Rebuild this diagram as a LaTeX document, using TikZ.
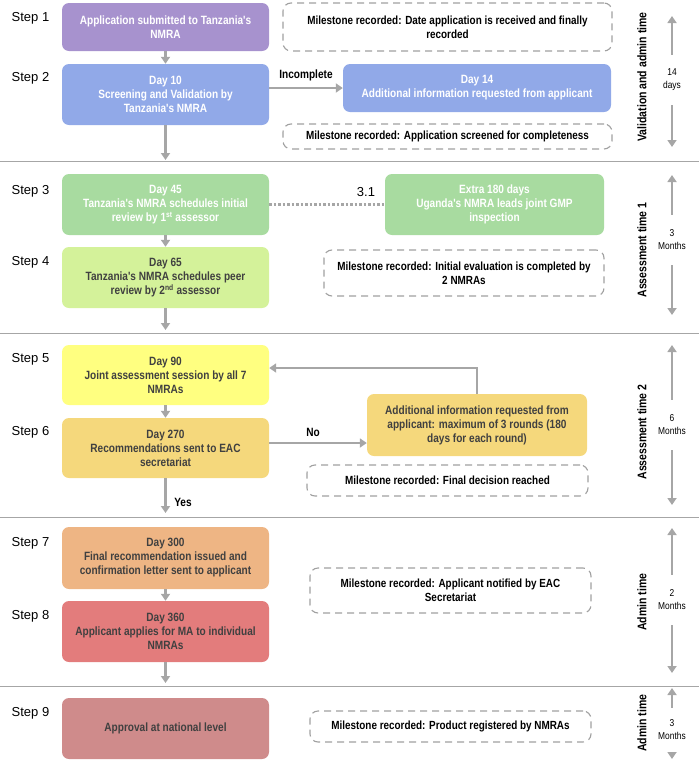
\documentclass[tikz,border=0pt]{standalone}
\usepackage{fontspec}
\setmainfont{Liberation Sans}
\newfontfamily\narrowsf{Liberation Sans}[FakeStretch=0.84]
\usetikzlibrary{arrows.meta, positioning}
\definecolor{linegray}{HTML}{A6A6A6}
\definecolor{dashgray}{HTML}{A0A0A0}
\definecolor{boxtext}{HTML}{404040}
\definecolor{cpurple}{HTML}{A792CE}
\definecolor{cblue}{HTML}{91A9E8}
\definecolor{cgreen}{HTML}{A8DBA0}
\definecolor{clime}{HTML}{D4F29A}
\definecolor{cyellow}{HTML}{FFFF80}
\definecolor{cgold}{HTML}{F5D87C}
\definecolor{corange}{HTML}{EEB584}
\definecolor{cred}{HTML}{E37C7C}
\definecolor{crose}{HTML}{CF8B8B}
\tikzset{>={Triangle[width=9pt,length=7pt]}}

\begin{document}
\begin{tikzpicture}[x=1pt, y=-1pt,
    stepbox/.style={rounded corners=7pt, minimum width=207pt, align=center, inner sep=2pt,
      font=\narrowsf\bfseries\fontsize{12}{14}\selectfont, text=boxtext},
    milestone/.style={draw=dashgray, line width=1.1pt, dash pattern=on 7pt off 5pt,
      rounded corners=8pt, align=center, inner sep=2pt,
      font=\narrowsf\bfseries\fontsize{11.8}{14}\selectfont},
    steplabel/.style={font=\fontsize{13}{15}\selectfont},
    sidelabel/.style={rotate=90, font=\narrowsf\bfseries\fontsize{12.5}{14}\selectfont},
    span/.style={fill=white, align=center, inner sep=1pt, font=\narrowsf\fontsize{10}{13}\selectfont},
    flow/.style={->, draw=linegray, line width=2.5pt},
    sep/.style={draw=linegray, line width=1pt}]
    \useasboundingbox (0,0) rectangle (699,761);

    % section separators
    \draw [sep] (0,161)--(699,161);
    \draw [sep] (0,333)--(699,333);
    \draw [sep] (0,517)--(699,517);
    \draw [sep] (0,686)--(699,686);

    % step labels
    \node [steplabel](s1) at (30.5,18) {Step 1};
    \node [steplabel](s2) at (30.5,78) {Step 2};
    \node [steplabel](s3) at (30.5,191) {Step 3};
    \node [steplabel](s4) at (30.5,262) {Step 4};
    \node [steplabel](s5) at (30.5,359) {Step 5};
    \node [steplabel](s6) at (30.5,432) {Step 6};
    \node [steplabel](s7) at (30.5,543) {Step 7};
    \node [steplabel](s8) at (30.5,616) {Step 8};
    \node [steplabel](s9) at (30.5,713) {Step 9};

    % main column
    \node [stepbox, fill=cpurple, text=white, minimum height=48pt](b1) at (165.5,27) {Application submitted to Tanzania's\\NMRA};
    \node [stepbox, fill=cblue, text=white, minimum height=61pt](b2) at (165.5,94.5) {Day 10\\Screening and Validation by\\Tanzania's NMRA};
    \node [stepbox, fill=cgreen, text=white, minimum height=61pt](b3) at (165.5,204.5) {Day 45\\Tanzania's NMRA schedules initial\\review by 1\textsuperscript{st} assessor};
    \node [stepbox, fill=clime, minimum height=61pt](b4) at (165.5,277.5) {Day 65\\Tanzania's NMRA schedules peer\\review by 2\textsuperscript{nd} assessor};
    \node [stepbox, fill=cyellow, minimum height=60pt](b5) at (165.5,375) {Day 90\\Joint assessment session by all 7\\NMRAs};
    \node [stepbox, fill=cgold, minimum height=60pt](b6) at (165.5,448) {Day 270\\Recommendations sent to EAC\\secretariat};
    \node [stepbox, fill=corange, minimum height=62pt](b7) at (165.5,558) {Day 300\\Final recommendation issued and\\confirmation letter sent to applicant};
    \node [stepbox, fill=cred, minimum height=61pt](b8) at (165.5,631.5) {Day 360\\Applicant applies for MA to individual\\NMRAs};
    \node [stepbox, fill=crose, minimum height=61pt](b9) at (165.5,728.5) {Approval at national level};

    % side branches
    \node [stepbox, fill=cblue, text=white, minimum width=268pt, minimum height=48pt](d14) at (477,88) {Day 14\\Additional information requested from applicant};
    \node [stepbox, fill=cgreen, text=white, minimum width=219pt, minimum height=61pt](gmp) at (494.5,204.5) {Extra 180 days\\Uganda's NMRA leads joint GMP\\inspection};
    \node [steplabel](s31) at (366,192) {3.1};
    \node [stepbox, fill=cgold, minimum width=220pt, minimum height=62pt](add) at (477,425) {Additional information requested from\\applicant: maximum of 3 rounds (180\\days for each round)};

    % milestones
    \node [milestone, minimum width=329pt, minimum height=48pt](m1) at (447.5,27) {Milestone recorded: Date application is received and finally\\recorded};
    \node [milestone, minimum width=329pt, minimum height=25pt](m2) at (447.5,136.5) {Milestone recorded: Application screened for completeness};
    \node [milestone, minimum width=280pt, minimum height=46pt](m3) at (464,273) {Milestone recorded: Initial evaluation is completed by\\2 NMRAs};
    \node [milestone, minimum width=281pt, minimum height=31pt](m4) at (447.5,480.5) {Milestone recorded: Final decision reached};
    \node [milestone, minimum width=281pt, minimum height=45pt](m5) at (450.5,590.5) {Milestone recorded: Applicant notified by EAC\\Secretariat};
    \node [milestone, minimum width=281pt, minimum height=31pt](m6) at (450.5,726.5) {Milestone recorded: Product registered by NMRAs};

    % connectors
    \coordinate (e2) at (165.5,160);
    \coordinate (e4) at (165.5,330);
    \coordinate (e6) at (165.5,513);
    \coordinate (e8) at (165.5,683);
    \draw [flow] (b1)--(b2);
    \draw [flow] (b2)--(e2);
    \draw [flow] (b3)--(b4);
    \draw [flow] (b4)--(e4);
    \draw [flow] (b5)--(b6);
    \draw [flow] (b6)--(e6);
    \draw [flow] (b7)--(b8);
    \draw [flow] (b8)--(e8);
    \draw [flow] (b2.east |- d14)--(d14) node [midway, above=2pt, text=black, font=\narrowsf\bfseries\fontsize{12}{14}\selectfont](inc) {Incomplete};
    \draw [draw=linegray, line width=2.5pt, dotted] (b3)--(gmp);
    \draw [flow] ([yshift=5pt]b6.east)--([yshift=5pt]b6.east -| add.west) node [pos=0.45, above=2pt, text=black, font=\narrowsf\bfseries\fontsize{12}{14}\selectfont](no) {No};
    \draw [flow] (add.north) |- ([yshift=7pt]b5.east);
    \node [font=\narrowsf\bfseries\fontsize{12}{14}\selectfont](yes) at (183,502) {Yes};

    % durations on the right
    \node [sidelabel](t1) at (642,77) {Validation and admin time};
    \node [sidelabel](t2) at (642,250) {Assessment time 1};
    \node [sidelabel](t3) at (642,432) {Assessment time 2};
    \node [sidelabel](t4) at (642,602) {Admin time};
    \node [sidelabel](t5) at (642,723) {Admin time};
    \coordinate (a1) at (672,16);  \coordinate (z1) at (672,147);
    \coordinate (a2) at (672,175); \coordinate (z2) at (672,315);
    \coordinate (a3) at (672,345); \coordinate (z3) at (672,505);
    \coordinate (a4) at (672,528); \coordinate (z4) at (672,673);
    \coordinate (a5) at (672,688); \coordinate (z5) at (672,759);
    \draw [<->, draw=linegray, line width=2.5pt] (a1)--(z1);
    \draw [<->, draw=linegray, line width=2.5pt] (a2)--(z2);
    \draw [<->, draw=linegray, line width=2.5pt] (a3)--(z3);
    \draw [<->, draw=linegray, line width=2.5pt] (a4)--(z4);
    \draw [<->, draw=linegray, line width=2.5pt] (a5)--(z5);
    \node [span, minimum height=50pt](d1) at (672,80) {14\\days};
    \node [span, minimum height=50pt](d2) at (672,240) {3\\Months};
    \node [span, minimum height=50pt](d3) at (672,425) {6\\Months};
    \node [span, minimum height=50pt](d4) at (672,600) {2\\Months};
    \node [span, minimum height=44pt](d5) at (672,730) {3\\Months};
\end{tikzpicture}
\end{document}
